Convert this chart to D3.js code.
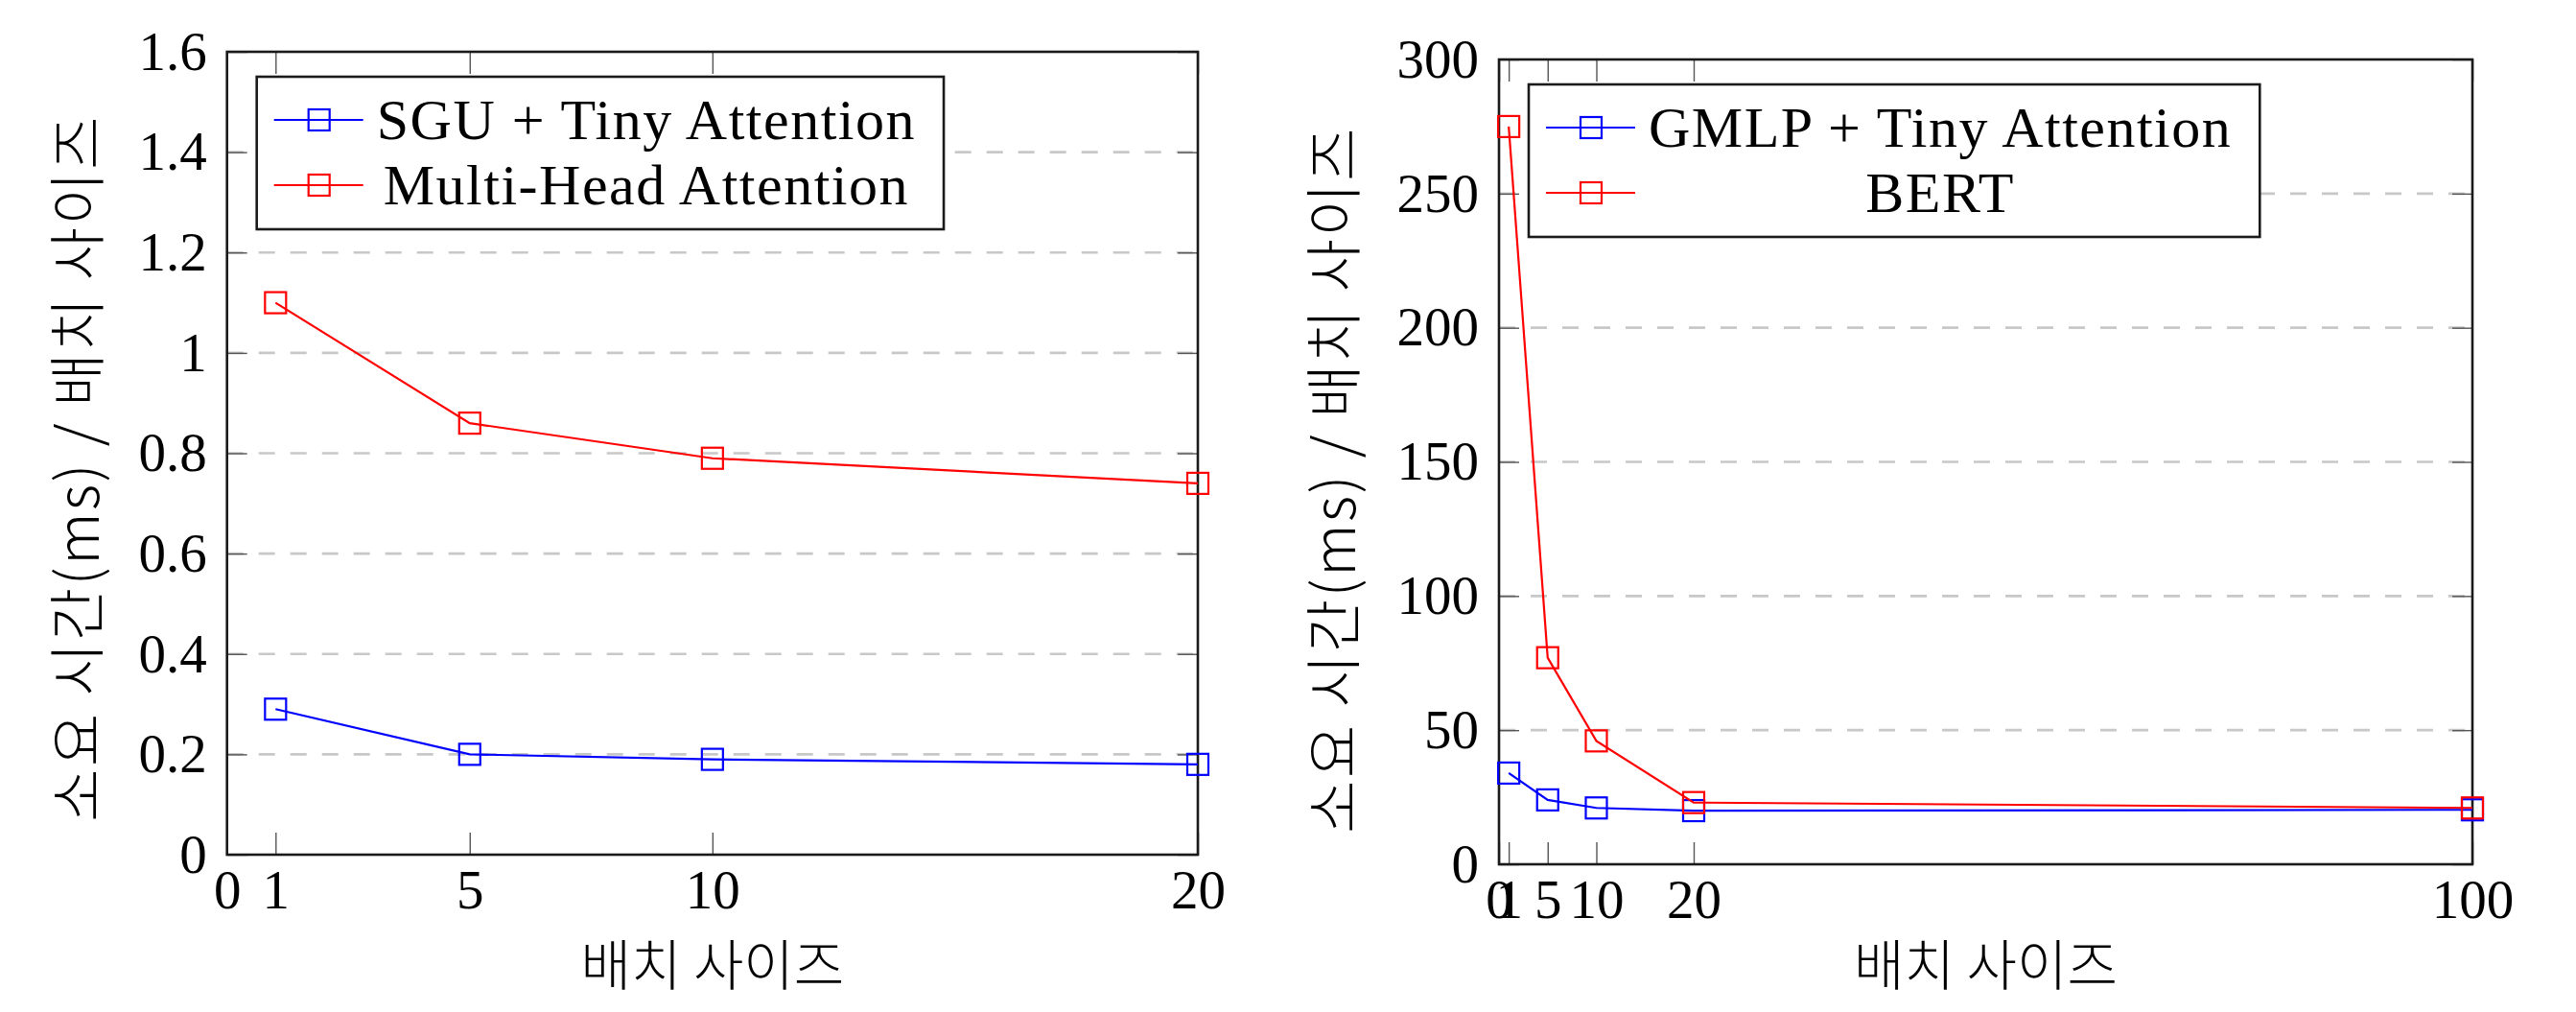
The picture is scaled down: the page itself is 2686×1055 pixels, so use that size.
<!DOCTYPE html>
<html>
<head>
<meta charset="utf-8">
<script src="https://cdn.jsdelivr.net/npm/d3@7"></script>
<style>
  body { margin: 0; background: #fff; }
  svg { display: block; }
  .hangul { font-family: 'Noto Sans CJK KR', sans-serif; font-weight: 300; }
</style>
</head>
<body>
<script>
// left panel data
const batchLeft = [1, 5, 10, 20];
const sguTiny = [0.29, 0.20, 0.19, 0.18];
const multiHead = [1.10, 0.86, 0.79, 0.74];
const leftXTicks = [0, 1, 5, 10, 20];
const leftYTicks = [0, 0.2, 0.4, 0.6, 0.8, 1, 1.2, 1.4, 1.6];
const leftYLabels = ['0', '0.2', '0.4', '0.6', '0.8', '1', '1.2', '1.4', '1.6'];

// right panel data
const batchRight = [1, 5, 10, 20, 100];
const gmlpTiny = [34, 24, 21, 20, 20.3];
const bert = [275, 77, 46, 23, 21];
const rightXTicks = [0, 1, 5, 10, 20, 100];
const rightYTicks = [0, 50, 100, 150, 200, 250, 300];

const xTitle = '배치 사이즈';
const yTitle = '소요 시간(ms) / 배치 사이즈';

const W = 2686, H = 1055;
const serif = "'Liberation Serif', 'Noto Sans CJK KR', serif";
const fontSize = 57;

const svg = d3.select('body').append('svg')
    .attr('width', W)
    .attr('height', H);

function drawPanel(p) {
    let x = d3.scaleLinear().domain(p.xDomain).range([p.left, p.right]);
    let y = d3.scaleLinear().domain(p.yDomain).range([p.bottom, p.top]);

    const g = svg.append('g');

    // dashed grid
    g.append('g').selectAll('line')
        .data(p.yTicks.filter(v => v > p.yDomain[0] && v < p.yDomain[1]))
        .enter()
        .append('line')
            .attr('x1', p.left)
            .attr('x2', p.right)
            .attr('y1', d => y(d))
            .attr('y2', d => y(d))
            .attr('stroke', '#c8c8c8')
            .attr('stroke-width', 2.6)
            .attr('stroke-dasharray', '17 16');

    // axes, ticks pointing inward
    let styleAxis = sel => {
        sel.select('.domain').remove();
        sel.selectAll('.tick line').attr('stroke', '#555').attr('stroke-width', 1.4);
        sel.attr('font-family', serif).attr('font-size', fontSize);
        sel.selectAll('.tick text').attr('fill', '#000');
    };

    g.append('g')
        .attr('transform', `translate(${p.left},0)`)
        .call(d3.axisLeft(y).tickValues(p.yTicks).tickFormat((d, i) => p.yLabels[i])
            .tickSizeInner(-21).tickSizeOuter(0).tickPadding(21))
        .call(styleAxis);

    g.append('g')
        .attr('transform', `translate(${p.right},0)`)
        .call(d3.axisRight(y).tickValues(p.yTicks).tickFormat('')
            .tickSizeInner(-21).tickSizeOuter(0))
        .call(styleAxis);

    g.append('g')
        .attr('transform', `translate(0,${p.bottom})`)
        .call(d3.axisBottom(x).tickValues(p.xTicks)
            .tickSizeInner(-23).tickSizeOuter(0).tickPadding(16))
        .call(styleAxis);

    g.append('g')
        .attr('transform', `translate(0,${p.top})`)
        .call(d3.axisTop(x).tickValues(p.xTicks).tickFormat('')
            .tickSizeInner(-23).tickSizeOuter(0))
        .call(styleAxis);

    // frame
    g.append('rect')
        .attr('x', p.left)
        .attr('y', p.top)
        .attr('width', p.right - p.left)
        .attr('height', p.bottom - p.top)
        .attr('fill', 'none')
        .attr('stroke', '#1a1a1a')
        .attr('stroke-width', 2.6);

    // series
    let line = d3.line().x(d => x(d[0])).y(d => y(d[1]));
    p.series.forEach(s => {
        let pts = p.xs.map((v, i) => [v, s.values[i]]);
        g.append('path')
            .datum(pts)
            .attr('d', line)
            .attr('fill', 'none')
            .attr('stroke', s.color)
            .attr('stroke-width', 2.2);
        g.append('g').selectAll('rect')
            .data(pts)
            .enter()
            .append('rect')
                .attr('x', d => x(d[0]) - 11)
                .attr('y', d => y(d[1]) - 11)
                .attr('width', 22)
                .attr('height', 22)
                .attr('fill', 'none')
                .attr('stroke', s.color)
                .attr('stroke-width', 2.2);
    });

    // legend
    let lx = p.left + 31, ly = p.top + 26;
    const lg = g.append('g');
    let box = lg.append('rect')
        .attr('x', lx)
        .attr('y', ly)
        .attr('height', 159)
        .attr('fill', '#fff')
        .attr('stroke', '#1a1a1a')
        .attr('stroke-width', 2.6);

    let texts = p.series.map((s, i) => lg.append('text')
        .attr('y', ly + 45 + i * 68)
        .attr('dy', '0.34em')
        .attr('text-anchor', 'middle')
        .attr('font-family', serif)
        .attr('font-size', 60)
        .attr('letter-spacing', 1.5)
        .text(s.name));
    let tw = d3.max(texts, t => t.node().getComputedTextLength());
    let textStart = lx + 125;
    texts.forEach(t => t.attr('x', textStart + tw / 2));
    box.attr('width', 125 + tw + 29);

    p.series.forEach((s, i) => {
        let yy = ly + 45 + i * 68;
        lg.append('line')
            .attr('x1', lx + 18).attr('x2', lx + 111)
            .attr('y1', yy).attr('y2', yy)
            .attr('stroke', s.color)
            .attr('stroke-width', 2.2);
        lg.append('rect')
            .attr('x', lx + 65 - 11).attr('y', yy - 11)
            .attr('width', 22).attr('height', 22)
            .attr('fill', 'none')
            .attr('stroke', s.color)
            .attr('stroke-width', 2.2);
    });

    // axis titles
    g.append('text')
        .attr('class', 'hangul')
        .attr('x', (p.left + p.right) / 2)
        .attr('y', 1007)
        .attr('dy', '0.35em')
        .attr('text-anchor', 'middle')
        .attr('font-size', 57)
        .text(xTitle);

    g.append('text')
        .attr('class', 'hangul')
        .attr('transform', `translate(${p.yTitleX},${p.yTitleY}) rotate(-90)`)
        .attr('dy', '0.35em')
        .attr('text-anchor', 'middle')
        .attr('font-size', 60)
        .attr('letter-spacing', 2.5)
        .text(yTitle);
}

drawPanel({
    left: 236.7, right: 1249, top: 54, bottom: 891,
    xDomain: [0, 20], yDomain: [0, 1.6],
    xTicks: leftXTicks, yTicks: leftYTicks, yLabels: leftYLabels,
    xs: batchLeft,
    series: [
        {name: 'SGU + Tiny Attention', values: sguTiny, color: '#0000ff'},
        {name: 'Multi-Head Attention', values: multiHead, color: '#ff0000'}
    ],
    yTitleX: 82, yTitleY: 488
});

drawPanel({
    left: 1563, right: 2578, top: 62, bottom: 901,
    xDomain: [0, 100], yDomain: [0, 300],
    xTicks: rightXTicks, yTicks: rightYTicks, yLabels: rightYTicks.map(String),
    xs: batchRight,
    series: [
        {name: 'GMLP + Tiny Attention', values: gmlpTiny, color: '#0000ff'},
        {name: 'BERT', values: bert, color: '#ff0000'}
    ],
    yTitleX: 1392, yTitleY: 500
});
</script>
</body>
</html>
